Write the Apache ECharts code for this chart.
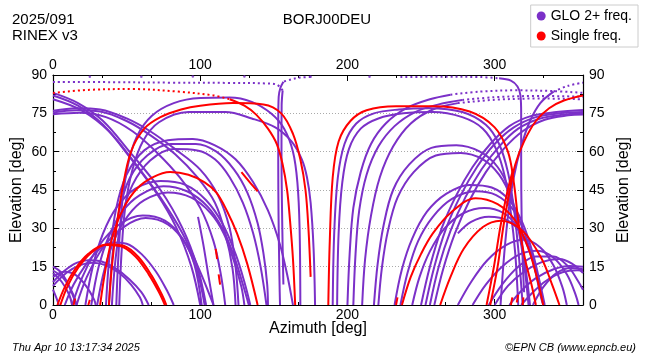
<!DOCTYPE html>
<html><head><meta charset="utf-8">
<script src="https://cdn.jsdelivr.net/npm/echarts@6/dist/echarts.min.js"></script>
<style>html,body{margin:0;padding:0;background:#fff}#c{width:650px;height:360px}</style>
</head><body><div id="c"></div>
<script>
// ---------- data (azimuth deg, elevation deg) ----------
const azTicks = [0, 100, 200, 300];
const elTicks = [0, 15, 30, 45, 60, 75, 90];
const seriesNames = ['GLO 2+ freq.', 'Single freq.'];

// GLONASS dual-frequency tracks (solid)
const gloTracks = [
  [[0,83],[17,79],[34,72],[52,60],[73,45],[88,30],[98,15],[104,0]],
  [[0,82],[17,78],[34,70.5],[52,58],[70,44],[84,30],[94,15],[100,0]],
  [[0,80.5],[20,76],[38,68],[55,56],[73,42],[88,28],[100,13],[109,0]],
  [[0,76],[16,77],[32,76.5],[50,73],[66,68],[83,61],[100,53],[112,43],[120,30],[124,15],[126,0]],
  [[0,75.3],[16,76.2],[32,75.7],[50,72],[66,66.5],[83,59],[98,50],[110,40],[117,28],[122,14],[124,0]],
  [[0,74.6],[18,75.2],[36,73.5],[54,68],[70,60],[86,50],[100,38],[109,25],[114,12],[117,0]],
  [[43,0],[44.5,20],[47,40],[51,55],[57,66],[67,74],[82,79],[100,81],[120,81.2],[135,79.5],[148,75],[157,69],[163,60],[166,48],[167.5,30],[168,0]],
  [[45,0],[46.5,20],[49,38],[54,53],[61,64],[72,71.5],[92,75.5],[117,75.5],[135,73],[151,69.5],[162,64],[169,57],[172.5,50],[175,40],[177,22],[178,0]],
  [[36,0],[38.5,20],[43,38],[50,51],[62,60.5],[78,64.5],[95,65],[110,62.5],[124,57],[136,48],[146,37],[154,24],[159,12],[163,0]],
  [[38,0],[40.5,20],[45,37],[52,49.5],[64,58.5],[80,63],[97,63],[111,60],[123,53],[132,44],[139,32],[143,20],[145.5,8],[146,0]],
  [[40,0],[42.5,18],[47,35],[54,47],[66,56.5],[82,61],[98,60.5],[110,57],[120,50],[129,40],[136,28],[141,15],[145,0]],
  [[22,0],[27,15],[34,28],[43,38],[56,45.5],[73,48.5],[90,47],[104,41],[115,32],[124,20],[130,9],[134,0]],
  [[26,0],[31,15],[38,27],[47,36.5],[59,43],[75,46.5],[91,44.5],[105,38.5],[115,30],[123,19],[129,8],[133,0]],
  [[30,0],[35,14],[42,26],[51,35],[62,41],[78,44],[94,42],[107,36],[116,28],[123,17],[128,7],[130,0]],
  [[13,0],[20,11],[31,23],[45,31.5],[61,35],[76,33],[88,26],[96,16],[101,0]],
  [[16,0],[23,11],[34,22.5],[48,30.5],[63,34],[78,31.5],[90,24],[98,13],[103,0]],
  [[8,0],[14,8],[22,15.5],[31,21.5],[40,24.5],[50,24],[60,20],[70,13],[78,5],[82,0]],
  [[0,9],[8,13.5],[16,16.5],[24,17.5],[33,17],[42,14.5],[52,10],[60,5],[65,0]],
  [[0,7.5],[9,12.5],[18,15.5],[27,16.5],[36,15.5],[45,12.5],[53,8],[59,3],[61,0]],
  [[0,15],[5,13],[10,8.5],[14,3],[16,0]],
  [[0,12.5],[6,9],[11,4],[13,0]],
  [[0,13.5],[7,10.5],[13,5],[16,0]],
  [[0,11],[8,13],[16,11.5],[23,7],[28,2],[29,0]],
  [[0,6],[2.5,2.5],[4,0]],
  [[98.5,34.5],[102,24],[106,10],[109,0]],
  [[156.5,87.4],[154.5,85],[153.3,81.5],[153,72],[153,55],[153.2,35],[153.6,18],[154,5],[154.2,0]],
  [[156,84],[155.3,78],[155.2,60],[155.5,40],[156,22],[156.5,8]],
  [[190,0],[191,28],[193.5,50],[198,63],[206,71],[218,75],[235,76.5],[255,77],[278,75.5],[294,70.5],[303,63],[309,52],[313,38],[316,22],[318,8],[319,0]],
  [[193,0],[194,28],[196.5,48],[201,61],[209,69],[221,73],[238,75],[258,75.5],[278,73.5],[292,69],[301,61],[307,50],[311,36],[314,20],[316,0]],
  [[200,0],[201.5,20],[204,38],[209,52],[216,63],[226,71],[240,77],[256,80.5],[270,82.3]],
  [[204,0],[205.5,20],[208,37],[213,51],[221,62],[232,70],[246,75.5],[262,78.5],[278,80.2]],
  [[210,0],[212,18],[216,35],[222,50],[231,62],[243,71],[258,76.5],[275,79]],
  [[218,0],[220.5,16],[224.5,31],[231,45],[242,55],[257,61.5],[274,62.5],[290,60],[302,54],[310,45],[315,34],[319,22],[322,10],[324,0]],
  [[221,0],[223.5,15],[227.5,29],[234,42],[245,52],[260,58.5],[277,59.5],[292,57],[303,51],[311,42],[316,30],[320,16],[323,0]],
  [[232,0],[237,14],[244,26],[254,36.5],[267,43.5],[283,47],[298,46],[310,41],[319,32],[326,20],[331,8],[334,0]],
  [[236,0],[241,13],[248,25],[258,34.5],[271,41.5],[287,44.5],[301,43],[313,37],[321,27],[327,15],[331,4],[333,0]],
  [[244,0],[249,11],[256,21],[266,30],[279,36],[293,38],[306,36],[317,29.5],[325,20],[330,9],[333,0]],
  [[275,28],[284,32.5],[296,34.5],[309,33],[319,27],[326,17],[331,5]],
  [[304,0],[306.5,20],[309.5,37],[313,50],[318,62],[324,72],[331,79],[340,83.5]],
  [[303,88.7],[311,87.8],[315.5,85.5],[317.5,82],[318,75],[318,55],[318.3,35],[319,18],[320,5]],
  [[250,0],[256,15],[264,30],[274,43],[285,54],[297,63],[310,70],[325,74],[342,75.5],[360,76.3]],
  [[253,0],[259,15],[267,30],[277,43],[288,54],[300,63],[313,69.5],[328,73.5],[344,75],[360,75.5]],
  [[256,0],[262,15],[270,29],[280,42],[291,53],[303,62],[316,69],[331,73],[347,74.5],[360,75]],
  [[259,0],[265,14],[273,28],[283,41],[294,52],[306,61],[319,68],[334,72.5],[350,74.2],[360,74.5]],
  [[275,0],[284,9],[295,17.5],[308,23.5],[320,25.5],[331,22.5],[340,15.5],[346,7],[349,0]],
  [[285,0],[294,8],[305,15],[317,19.8],[329,21.2],[340,18.5],[349,12],[355,4],[357,0]],
  [[300,0],[309,7.5],[320,13],[332,16.8],[344,18],[353,16],[360,12.5]],
  [[310,0],[318,5.5],[328,10.5],[340,14],[351,15.3],[360,15]],
  [[318,0],[326,5],[335,9.5],[346,12.8],[356,13.6],[360,13.5]],
  [[296,0],[305,8],[316,15],[328,19],[340,19],[350,15],[357,9],[360,6]],
  [[326,0],[333,7],[342,12.5],[352,14.5],[360,14]]
];

// GLONASS sparse (near-zenith) segments, drawn dotted
const gloSparse = [
  [[0,87.3],[40,87.2],[80,87],[120,86.9],[145,86.7],[152,86.2],[156,84]],
  [[175,89.2],[168,89],[162,88.3],[156.5,87.4]],
  [[270,82.3],[290,83.5],[315,84],[340,83.7],[360,83]],
  [[278,80.2],[300,81.3],[330,81.8],[360,81.5]],
  [[275,79],[300,80.3],[330,80.8],[360,80.5]],
  [[340,83.5],[350,85.8],[360,87]],
  [[236,89.2],[265,89.3],[290,89.2],[303,88.7]]
];
// isolated zenith dots
const gloZenith = [[25,89.3],[60,89.3],[95,89.4],[130,89.4],[175,89.3],[215,89.3]];

// single-frequency tracks (solid)
const singleTracks = [
  [[38,0],[40,15],[43,30],[47,45],[53,60],[62,69],[73,73.5],[87,76.5],[100,78],[122,79],[143,78.5],[155,75],[163,67],[168,57],[171.5,45],[173.5,30],[175,11]],
  [[120,80.5],[130,78],[138,74.5],[146,69],[152,63],[156,55],[159,45],[161,33],[163,18],[164.5,0]],
  [[32,0],[36,15],[41,28],[48,38],[57,45.5],[68,50],[79.5,52],[92,51],[103,48],[111,44],[118,37],[125,28],[132,16],[139,0]],
  [[3,0],[8,7],[15,14],[24,20],[35,23.5],[46,23],[56,19],[65,12],[72,5],[76,0]],
  [[5,0],[10,7.5],[17,14.5],[26,20.5],[37,23.8],[48,23.2],[58,18.8],[67,11.5],[74,4],[77,0]],
  [[128,52],[133,48.5],[139,44.5]],
  [[110.5,22],[111.5,18]],
  [[112.5,12],[113.5,8]],
  [[187,0],[188,25],[190,50],[194,64],[202,72],[213,76.2],[233,77.8],[258,77.8],[283,75.7],[300,69.5],[309,60],[313,48],[316.5,31],[321,17],[325,8],[328,0]],
  [[237,0],[243,11],[250,20],[258,28],[270,36],[287,41.8],[302,39.5],[314,33],[323,22],[329,10],[333,0]],
  [[263,0],[270,11],[279,22],[292,30.5],[304,33],[319,29],[332,18],[339,8],[344,0]],
  [[297,0],[302,15],[306,31],[310,44],[314,55],[320,64],[328,72],[337,77],[347,80],[360,82]],
  [[294.5,0],[299.5,15],[304,31],[308.5,44],[312.5,53]],
  [[233,0],[234,3]],[[311,0],[312,3]],[[315,1],[316,4]],[[319,0],[319.5,3]],[[14,0],[15,2.5]],[[24,0],[25,2]]
];
// single-frequency sparse segment (dotted)
const singleSparse = [
  [[0,83],[25,84.2],[54,84.5],[85,83.5],[109,82],[120,80.5]]
];

// ---------- chart ----------
const PURPLE = '#7b30c8', RED = '#ff0000';
const FONT = 'Liberation Sans, Arial, sans-serif';
const series = [];
function addLine(track, name, color, type) {
  series.push({
    type: 'line', name: name, data: track, showSymbol: false, symbol: 'none',
    smooth: 0.35, silent: true, animation: false,
    lineStyle: { color: color, width: 2, type: type || 'solid' },
    itemStyle: { color: color }
  });
}
gloTracks.forEach(t => addLine(t, seriesNames[0], PURPLE));
gloSparse.forEach(t => addLine(t, seriesNames[0], PURPLE, [2, 3]));
series.push({ type: 'scatter', name: seriesNames[0], data: gloZenith, symbolSize: 2.5, silent: true,
  itemStyle: { color: PURPLE } });
singleTracks.forEach(t => addLine(t, seriesNames[1], RED));
singleSparse.forEach(t => addLine(t, seriesNames[1], RED, [2, 3]));

function xAxisDef(pos, showLabels) {
  return {
    type: 'value', position: pos, min: 0, max: 360, interval: 100,
    axisLine: { show: true, onZero: false, lineStyle: { color: '#000', width: 1.2 } },
    axisTick: { show: true, inside: true, length: 6, lineStyle: { color: '#000' } },
    minorTick: { show: true, splitNumber: 3, length: 3, lineStyle: { color: '#000' } },
    axisLabel: { show: showLabels, fontSize: 14, color: '#000', margin: 3, fontFamily: FONT,
      showMaxLabel: false, formatter: v => azTicks.indexOf(v) >= 0 ? String(v) : '' },
    splitLine: { show: false }
  };
}
function yAxisDef(pos, grid) {
  return {
    type: 'value', position: pos, min: 0, max: 90, interval: 15,
    axisLine: { show: true, onZero: false, lineStyle: { color: '#000', width: 1.2 } },
    axisTick: { show: true, inside: true, length: 6, lineStyle: { color: '#000' } },
    minorTick: { show: true, splitNumber: 2, length: 3, lineStyle: { color: '#000' } },
    axisLabel: { fontSize: 14, color: '#000', margin: 6, fontFamily: FONT,
      formatter: v => elTicks.indexOf(v) >= 0 ? String(v) : '' },
    splitLine: { show: grid, lineStyle: { color: '#aaa', type: [1, 2], width: 1 } }
  };
}

const chart = echarts.init(document.getElementById('c'), null, { renderer: 'canvas' });
chart.setOption({
  animation: false,
  backgroundColor: '#fff',
  grid: { left: 53, right: 67, top: 75, bottom: 55 },
  xAxis: [xAxisDef('bottom', true), xAxisDef('top', true)],
  yAxis: [yAxisDef('left', true), yAxisDef('right', false)],
  legend: {
    data: [{ name: seriesNames[0], icon: 'circle' }, { name: seriesNames[1], icon: 'circle' }],
    orient: 'vertical', right: 12, top: 5, itemWidth: 9, itemHeight: 9, itemGap: 6,
    padding: [4, 6, 4, 6], borderColor: '#ccc', borderWidth: 1, backgroundColor: '#fff',
    textStyle: { fontSize: 14, color: '#000', fontFamily: FONT }, selectedMode: false
  },
  graphic: [
    { type: 'text', left: 12, top: 12, style: { text: '2025/091', font: '15px ' + FONT, fill: '#000' } },
    { type: 'text', left: 12, top: 28, style: { text: 'RINEX v3', font: '15px ' + FONT, fill: '#000' } },
    { type: 'text', x: 327, y: 12, style: { text: 'BORJ00DEU', font: '15px ' + FONT, fill: '#000', textAlign: 'center' } },
    { type: 'text', x: 318, y: 321, style: { text: 'Azimuth [deg]', font: '16px ' + FONT, fill: '#000', textAlign: 'center' } },
    { type: 'text', x: 17, y: 190, rotation: Math.PI / 2, style: { text: 'Elevation [deg]', font: '16px ' + FONT, fill: '#000', textAlign: 'center', textVerticalAlign: 'middle' } },
    { type: 'text', x: 624, y: 190, rotation: Math.PI / 2, style: { text: 'Elevation [deg]', font: '16px ' + FONT, fill: '#000', textAlign: 'center', textVerticalAlign: 'middle' } },
    { type: 'text', left: 12, top: 342, style: { text: 'Thu Apr 10 13:17:34 2025', font: 'italic 11px ' + FONT, fill: '#000' } },
    { type: 'text', right: 14, top: 342, style: { text: '\u00A9EPN CB (www.epncb.eu)', font: 'italic 11px ' + FONT, fill: '#000' } }
  ],
  series: series
});
</script></body></html>
